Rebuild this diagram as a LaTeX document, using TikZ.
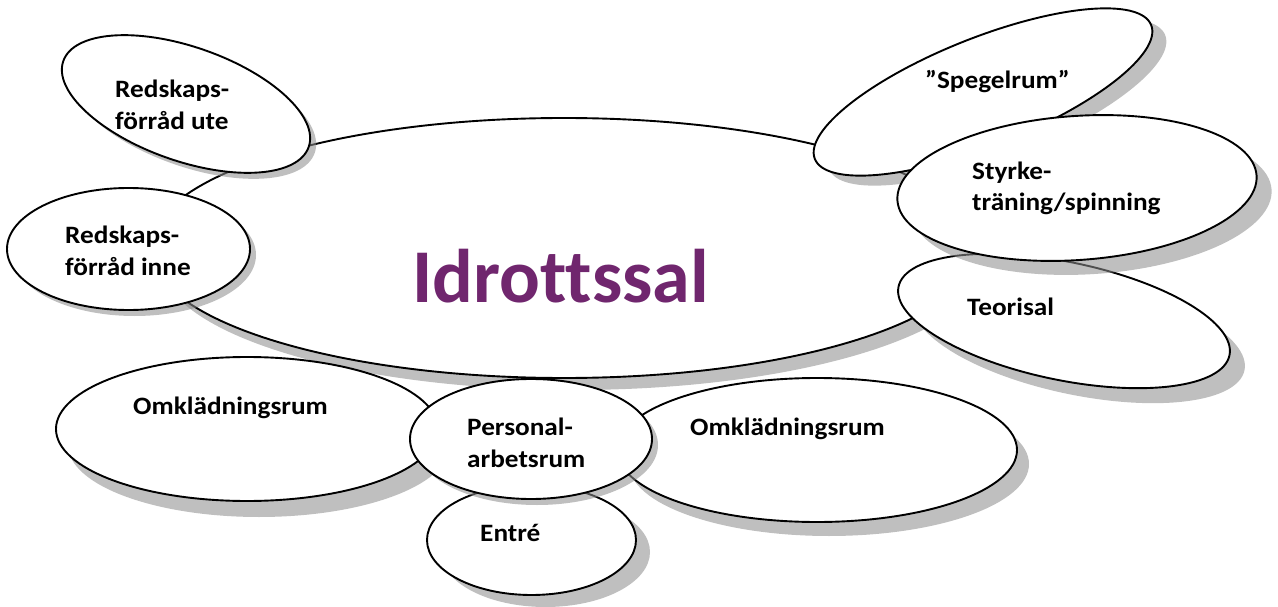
\documentclass[tikz,border=0pt]{standalone}
\usepackage{fontspec}
\setmainfont{Carlito}[Ligatures=NoCommon]
\newfontfamily\lblfont{Carlito}[FakeStretch=1.09, Ligatures=NoCommon]
\definecolor{titlec}{RGB}{112,38,110}
\definecolor{shadowc}{RGB}{141,141,141}
\tikzset{
  ovalline/.style={draw=black, fill=white, line width=1.9pt},
  shadowfill/.style={fill=shadowc, fill opacity=0.56},
  lbl/.style={font=\lblfont\bfseries\fontsize{25}{32}\selectfont, align=left, inner sep=0pt, anchor=base west},
  titlelbl/.style={font=\bfseries\fontsize{76}{80}\selectfont, text=titlec, inner sep=0pt, anchor=base west}
}
% #1 cx, #2 cy, #3 a, #4 b, #5 angle, #6 sx, #7 sy
\newcommand\shadowoval[7]{%
  \fill[shadowfill, rotate around={#5:(#1+#6,#2+#7)}] (#1+#6,#2+#7) ellipse [x radius=#3pt, y radius=#4pt];
  \draw[ovalline, rotate around={#5:(#1,#2)}] (#1,#2) ellipse [x radius=#3pt, y radius=#4pt];
}
\begin{document}
\begin{tikzpicture}[x=1pt, y=-1pt]
\useasboundingbox (0,0) rectangle (1278,607);
% shapes, bottom to top
\shadowoval{564}{248}{414}{130}{0}{10}{12}       % Idrottssal
\shadowoval{186}{104}{130}{57}{-19.3}{6}{6}      % Redskapsforrad ute
\shadowoval{128.5}{249}{121.5}{61}{0}{6}{6}      % Redskapsforrad inne
\shadowoval{983}{92}{181}{54}{21.7}{14}{10}      % Spegelrum
\shadowoval{1064}{321}{169}{59}{-11.7}{15}{15}   % Teorisal
\shadowoval{1077}{188}{180}{72}{4}{15}{14}       % Styrketraning
\shadowoval{247}{429}{191}{72}{0}{12}{16}        % Omkladningsrum left
\shadowoval{817}{450}{200}{72}{0}{12}{14}        % Omkladningsrum right
\shadowoval{531.5}{540}{104.5}{55}{0}{14}{12}    % Entre
\shadowoval{531}{439}{121}{60}{0}{6}{6}          % Personalarbetsrum
% labels (multi-line labels are anchored at the baseline of their last line)
\node[titlelbl] (idrott) at (412,302) {Idrottssal};
\node[lbl] (ute) at (115,130) {Redskaps-\\förråd ute};
\node[lbl] (inne) at (65,275) {Redskaps-\\förråd inne};
\node[lbl] (speg) at (925,89) {”Spegelrum”};
\node[lbl] (styrke) at (972,211) {Styrke-\\träning/spinning};
\node[lbl] (teori) at (967,315) {Teorisal};
\node[lbl] (omkl) at (133,414) {Omklädningsrum};
\node[lbl] (omkr) at (690,435) {Omklädningsrum};
\node[lbl] (pers) at (467,467) {Personal-\\arbetsrum};
\node[lbl] (entre) at (480,541) {Entré};
\end{tikzpicture}
\end{document}
